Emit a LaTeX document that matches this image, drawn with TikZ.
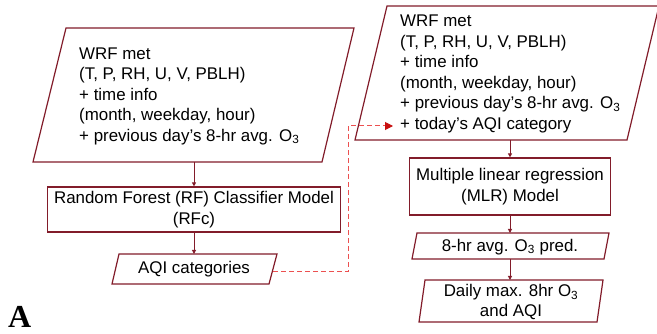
\documentclass[tikz,border=0pt]{standalone}
\usepackage{fontspec}
\setmainfont{Liberation Sans}
\newfontfamily\serifA{Liberation Serif}
\usetikzlibrary{arrows.meta}
\definecolor{maroon}{RGB}{130,28,42}
\definecolor{dashred}{RGB}{236,80,80}
\definecolor{tipred}{RGB}{200,16,16}
\begin{document}
\begin{tikzpicture}[x=1pt,y=-1pt,
  box/.style={draw=maroon,line width=1.2pt,fill=white},
  txt/.style={inner sep=0pt,font=\fontsize{16.9}{20.5}\selectfont},
  flow/.style={draw=maroon,line width=1pt,-{Triangle[length=4pt,width=4pt]}},
  link/.style={draw=dashred,line width=1pt,dash pattern=on 5pt off 3pt,-{Triangle[length=8pt,width=8pt,color=tipred]}}]
\useasboundingbox (0,0) rectangle (657,334);
% left input
\draw[box] (66,28) -- (354,28) -- (322,162) -- (33,162) -- cycle;
\node[txt,anchor=west,align=left] (l1t) at (79,96) {WRF met\\(T, P, RH, U, V, PBLH)\\+ time info\\(month, weekday, hour)\\+ previous day’s 8-hr avg. O\textsubscript{3}};
\coordinate (l1b) at (194,162);
% RF
\node[box,txt,align=center,minimum width=293pt,minimum height=45pt,font=\fontsize{16.9}{21}\selectfont] (rf) at (194,209.5) {Random Forest (RF) Classifier Model\\(RFc)};
% AQI categories
\draw[box] (119,254) -- (277,254) -- (269,284) -- (112,284) -- cycle;
\node[txt] (aqi) at (194,269) {AQI categories};
\coordinate (aqitop) at (194,254);
\coordinate (aqir) at (273,272);
\coordinate (dbend) at (348,126);
\coordinate (r1in) at (393,126);
% right input
\draw[box] (387,6) -- (659,6) -- (627,140) -- (355,140) -- cycle;
\node[txt,anchor=west,align=left] (r1t) at (400,74) {WRF met\\(T, P, RH, U, V, PBLH)\\+ time info\\(month, weekday, hour)\\+ previous day’s 8-hr avg. O\textsubscript{3}\\+ today’s AQI category};
\coordinate (r1b) at (510,140);
% MLR
\node[box,txt,align=center,minimum width=201pt,minimum height=57pt,font=\fontsize{16.9}{21}\selectfont] (mlr) at (510,186.5) {Multiple linear regression\\(MLR) Model};
% O3 pred
\draw[box] (417,233) -- (609,233) -- (604,259) -- (412,259) -- cycle;
\node[txt] (o3p) at (510,247) {8-hr avg. O\textsubscript{3} pred.};
\coordinate (o3top) at (510,233);
\coordinate (o3bot) at (510,259);
% daily
\draw[box] (425,280) -- (603,280) -- (597,322) -- (419,322) -- cycle;
\node[txt,align=center,font=\fontsize{16.9}{20}\selectfont] (daily) at (511,302) {Daily max. 8hr O\textsubscript{3}\\and AQI};
\coordinate (dtop) at (510,280);
% connectors
\draw[flow] (l1b) -- (rf.north);
\draw[flow] (rf.south) -- (aqitop);
\draw[link] (aqir) -| (dbend) -- (r1in);
\draw[flow] (r1b) -- (mlr.north);
\draw[flow] (mlr.south) -- (o3top);
\draw[flow] (o3bot) -- (dtop);
% panel label
\node[inner sep=0pt,anchor=base west,font=\serifA\bfseries\fontsize{32}{32}\selectfont] (lab) at (8,327) {A};
\end{tikzpicture}
\end{document}
